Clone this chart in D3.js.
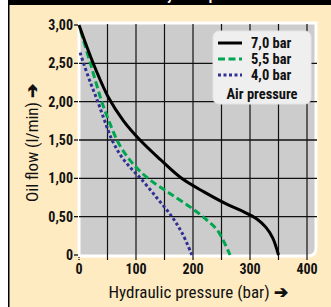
<!DOCTYPE html>
<html><head><meta charset="utf-8">
<script src="https://cdn.jsdelivr.net/npm/d3@7"></script>
<style>
html,body{margin:0;padding:0;background:#fff;}
svg{display:block;}
.cond{font-family:"Roboto Condensed","Liberation Sans Narrow",Roboto,sans-serif;}
</style></head>
<body>
<svg id="c" width="331" height="307"></svg>
<script>
const xTicks = [0,100,200,300,400];
const yTicks = [0,0.5,1.0,1.5,2.0,2.5,3.0];
const yTickLabels = ["0","0,50","1,00","1,50","2,00","2,50","3,00"];
const seriesNames = ["7,0 bar","5,5 bar","4,0 bar"];
const s70 = [[0,3.0],[25,2.5],[52,2.05],[78,1.75],[107,1.5],[142,1.25],[180,1.0],[220,0.82],[260,0.66],[290,0.56],[312,0.47],[328,0.36],[340,0.22],[350,0.0]];
const s55 = [[3,2.92],[20,2.5],[40,2.0],[55,1.7],[70,1.45],[88,1.25],[106,1.1],[128,0.96],[160,0.8],[200,0.6],[222,0.47],[243,0.32],[265,0.0]];
const s40 = [[2,2.64],[8,2.5],[20,2.25],[33,2.0],[45,1.75],[58,1.5],[73,1.3],[90,1.14],[108,1.0],[135,0.76],[163,0.5],[182,0.27],[198,0.0]];

const svg = d3.select("#c");
const W=331,H=307;
svg.append("rect").attr("x",9).attr("y",0).attr("width",W-9).attr("height",H).attr("fill","#feebc2");
svg.append("rect").attr("x",8).attr("y",0).attr("width",1.5).attr("height",H).attr("fill","#000");
svg.append("rect").attr("x",8).attr("y",0).attr("width",W-8).attr("height",5).attr("fill","#000");
svg.append("text").attr("x",110).attr("y",0).attr("class","cond")
  .attr("font-size",14).attr("font-weight","bold").attr("fill","#fff").text("Oil delivery at air pressure");

const x = d3.scaleLinear().domain([0,400]).range([79,307]);
const y = d3.scaleLinear().domain([0,3]).range([255,25]);

const px0=79, px1=316, py0=23, py1=256;
svg.append("path").attr("d",`M${px0},${py0}H${px1}V${py1-8}Q${px1},${py1} ${px1-8},${py1}H${px0}Z`)
  .attr("fill","#cccccc").attr("stroke","#fff").attr("stroke-width",3);

const g = svg.append("g");
const vg = d3.range(50,401,50);
g.selectAll("line.v").data(vg).enter().append("line")
  .attr("x1",d=>x(d)).attr("x2",d=>x(d)).attr("y1",py0+1).attr("y2",260)
  .attr("stroke","#111").attr("stroke-width",1.2);
g.selectAll("line.h").data(yTicks.filter(d=>d>0&&d<3)).enter().append("line")
  .attr("x1",px0).attr("x2",px1+1).attr("y1",d=>y(d)).attr("y2",d=>y(d))
  .attr("stroke","#111").attr("stroke-width",1.3);
g.selectAll("line.yt").data(yTicks).enter().append("line")
  .attr("x1",74).attr("x2",78).attr("y1",d=>y(d)).attr("y2",d=>y(d))
  .attr("stroke","#000").attr("stroke-width",1.2);
svg.append("line").attr("x1",x(0)).attr("x2",x(0)).attr("y1",257).attr("y2",260).attr("stroke","#000").attr("stroke-width",1.2).attr("stroke-dasharray","1,1");

svg.selectAll("text.yl").data(yTicks).enter().append("text").attr("class","cond")
  .attr("x",73).attr("y",d=>y(d)+5).attr("text-anchor","end")
  .attr("font-size",14).attr("font-weight","bold").attr("fill","#111")
  .text((d,i)=>yTickLabels[i]);
svg.selectAll("text.xl").data(xTicks).enter().append("text").attr("class","cond")
  .attr("x",d=>x(d)).attr("y",274).attr("text-anchor","middle")
  .attr("font-size",14).attr("font-weight","bold").attr("fill","#111")
  .text(d=>d);

svg.append("text").attr("class","cond").attr("x",198).attr("y",298).attr("text-anchor","middle")
  .attr("font-size",17).attr("fill","#111")
  .html('Hydraulic pressure (bar) <tspan font-weight="bold">➔</tspan>');
svg.append("text").attr("class","cond").attr("transform","translate(38,143) rotate(-90)").attr("text-anchor","middle")
  .attr("font-size",17).attr("fill","#111")
  .html('Oil flow (l/min) <tspan font-weight="bold">➔</tspan>');

const line = d3.line().x(d=>x(d[0])).y(d=>y(d[1])).curve(d3.curveCatmullRom.alpha(0.5));
const styles = [
  {data:s70,color:"#000000",dash:null,w:3},
  {data:s55,color:"#00a650",dash:"7,3.5",w:3},
  {data:s40,color:"#2e3192",dash:"3,2.5",w:3}
];
styles.slice().reverse().forEach(s=>{
  svg.append("path").datum(s.data).attr("d",line).attr("fill","none")
    .attr("stroke",s.color).attr("stroke-width",s.w).attr("stroke-dasharray",s.dash);
});

const lg = svg.append("g");
lg.append("rect").attr("x",213).attr("y",31).attr("width",98).attr("height",73).attr("rx",6)
  .attr("fill","#efefef").attr("stroke","#e4e4e4");
const ly=[43,59,75];
styles.forEach((s,i)=>{
  lg.append("line").attr("x1",218).attr("x2",242).attr("y1",ly[i]).attr("y2",ly[i])
    .attr("stroke",s.color).attr("stroke-width",3).attr("stroke-dasharray",s.dash);
  lg.append("text").attr("class","cond").attr("x",251).attr("y",ly[i]+5)
    .attr("font-size",14.5).attr("font-weight","bold").attr("fill","#111").text(seriesNames[i]);
});
lg.append("text").attr("class","cond").attr("x",262).attr("y",99).attr("text-anchor","middle")
  .attr("font-size",14.5).attr("font-weight","bold").attr("fill","#111").text("Air pressure");
</script>
</body></html>
